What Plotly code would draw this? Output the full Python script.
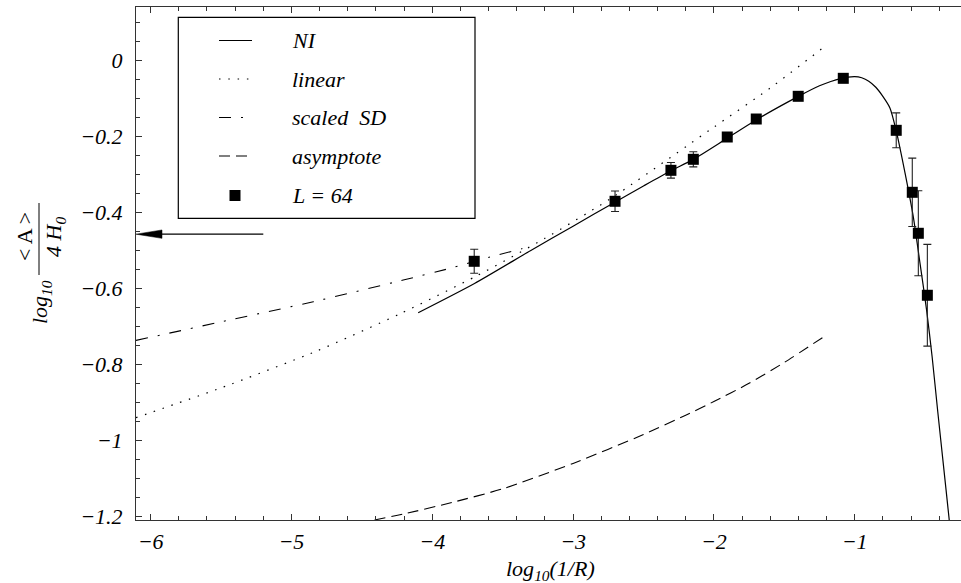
import plotly.graph_objects as go

# ---------------- data ----------------
ni_x = [-4.10, -3.70, -3.30, -3.00, -2.70, -2.50, -2.305, -2.146, -1.905, -1.70, -1.40,
        -1.25, -1.10, -1.00, -0.95, -0.90, -0.85, -0.80, -0.749, -0.705, -0.643, -0.584,
        -0.536, -0.49, -0.45, -0.41, -0.37, -0.33, -0.318]
ni_y = [-0.664, -0.587, -0.500, -0.436, -0.372, -0.330, -0.290, -0.260, -0.204, -0.156, -0.094,
        -0.066, -0.047, -0.042, -0.045, -0.054, -0.070, -0.094, -0.125, -0.185, -0.295, -0.411,
        -0.534, -0.655, -0.780, -0.925, -1.065, -1.205, -1.250]

lin_x = [-6.104, -5.50, -4.821, -4.23, -3.685, -3.20, -2.74, -2.00, -1.60, -1.199]
lin_y = [-0.9405, -0.862, -0.765, -0.667, -0.567, -0.468, -0.365, -0.175, -0.072, 0.0414]

sd_x = [-6.104, -5.50, -4.845, -4.206, -3.874, -3.638, -3.36]
sd_y = [-0.737, -0.688, -0.635, -0.578, -0.547, -0.522, -0.495]

asy_x = [-4.41, -4.20, -3.85, -3.50, -3.00, -2.50, -2.20, -2.00, -1.75, -1.50, -1.20]
asy_y = [-1.210, -1.194, -1.163, -1.128, -1.061, -0.985, -0.934, -0.898, -0.850, -0.795, -0.7226]

pts_x = [-3.702, -2.702, -2.305, -2.146, -1.905, -1.699, -1.401, -1.081, -0.705, -0.591, -0.548, -0.484]
pts_y = [-0.5285, -0.3704, -0.2888, -0.2598, -0.2010, -0.1536, -0.0938, -0.0464, -0.1834, -0.3467, -0.4547, -0.6180]
pts_err = [0.0316, 0.027, 0.0205, 0.020, 0.005, 0.008, 0.004, 0.004, 0.046, 0.090, 0.112, 0.134]

xtick_vals = [-6, -5, -4, -3, -2, -1]
xtick_text = ["\u22126", "\u22125", "\u22124", "\u22123", "\u22122", "\u22121"]
ytick_vals = [0, -0.2, -0.4, -0.6, -0.8, -1.0, -1.2]
ytick_text = ["0", "\u22120.2", "\u22120.4", "\u22120.6", "\u22120.8", "\u22121", "\u22121.2"]

legend_labels = ["NI", "linear", "scaled\u00a0\u00a0SD", "asymptote", "L = 64"]

arrow_level = -0.457
arrow_start = -5.2

x_range = [-6.104, -0.245]
y_range = [-1.2101, 0.1415]

# ---------------- layout helpers ----------------
W, H = 961, 583
ML, MR, MT, MB = 136, 0, 7, 63
PW, PH = W - ML - MR, H - MT - MB
FONT = "Liberation Serif"
FS = 22
INK = "black"


def px(x):
    return (x - ML) / PW


def py(y):
    return (H - MB - y) / PH


# dash styles
DOT = "1.5px,7.8px"
DASHDOT = "12px,10px,2px,10px"
DASH = "11px,6px"

fig = go.Figure()

fig.add_trace(go.Scatter(x=lin_x, y=lin_y, mode="lines", line=dict(color=INK, width=1.2, dash=DOT, shape="spline", smoothing=0.6), showlegend=False))
fig.add_trace(go.Scatter(x=sd_x, y=sd_y, mode="lines", line=dict(color=INK, width=1.1, dash=DASHDOT, shape="spline", smoothing=0.6), showlegend=False))
fig.add_trace(go.Scatter(x=asy_x, y=asy_y, mode="lines", line=dict(color=INK, width=1.1, dash=DASH, shape="spline", smoothing=0.6), showlegend=False))
fig.add_trace(go.Scatter(x=ni_x, y=ni_y, mode="lines", line=dict(color=INK, width=1.2, shape="spline", smoothing=0.7), showlegend=False))
fig.add_trace(go.Scatter(
    x=pts_x, y=pts_y, mode="markers",
    marker=dict(symbol="square", size=11, color=INK, line=dict(width=0)),
    error_y=dict(type="data", array=pts_err, visible=True, color="#222", thickness=1.1, width=4),
    showlegend=False))

shapes = []
annotations = []

# arrow to the axis
head_len = 26 / (PW / (x_range[1] - x_range[0]))
head_half = 4.2 / (PH / (y_range[1] - y_range[0]))
tip = x_range[0]
shapes.append(dict(type="line", xref="x", yref="y", x0=arrow_start, x1=tip + head_len * 0.5,
                   y0=arrow_level, y1=arrow_level, line=dict(color=INK, width=1.3)))
shapes.append(dict(type="path", xref="x", yref="y",
                   path=f"M {tip},{arrow_level} L {tip + head_len},{arrow_level + head_half} "
                        f"L {tip + head_len},{arrow_level - head_half} Z",
                   fillcolor=INK, line=dict(color=INK, width=0.5)))

# legend box
shapes.append(dict(type="rect", xref="paper", yref="paper", x0=px(178.3), x1=px(475), y0=py(218.3), y1=py(17.3),
                   line=dict(color=INK, width=1.2), fillcolor="rgba(255,255,255,0)"))
rows = [40.5, 79, 117.5, 156, 195.5]
styles = [None, DOT, DASHDOT, DASH]
for i, lab in enumerate(legend_labels):
    yy = rows[i]
    if i < 4:
        line = dict(color=INK, width=1.2)
        if styles[i]:
            line["dash"] = styles[i]
        shapes.append(dict(type="line", xref="paper", yref="paper", x0=px(219), x1=px(252), y0=py(yy), y1=py(yy), line=line))
    else:
        shapes.append(dict(type="rect", xref="paper", yref="paper", x0=px(229.5), x1=px(240.5),
                           y0=py(yy + 5.5), y1=py(yy - 5.5), fillcolor=INK, line=dict(width=0)))
    annotations.append(dict(xref="paper", yref="paper", x=px(290), y=py(yy), text=lab, showarrow=False,
                            xanchor="left", yanchor="middle",
                            font=dict(family=FONT, size=FS, color=INK, style="italic")))

# y-axis title built from pieces (log10 + fraction)
annotations.append(dict(xref="paper", yref="paper", x=px(41), y=py(302), text="log<sub>10</sub>", textangle=-90,
                        showarrow=False, xanchor="center", yanchor="middle",
                        font=dict(family=FONT, size=FS, color=INK, style="italic")))
annotations.append(dict(xref="paper", yref="paper", x=px(24), y=py(236), text="&lt; A &gt;", textangle=-90,
                        showarrow=False, xanchor="center", yanchor="middle",
                        font=dict(family=FONT, size=FS, color=INK)))
annotations.append(dict(xref="paper", yref="paper", x=px(55), y=py(237), text="4 H<sub>0</sub>", textangle=-90,
                        showarrow=False, xanchor="center", yanchor="middle",
                        font=dict(family=FONT, size=FS, color=INK, style="italic")))
shapes.append(dict(type="line", xref="paper", yref="paper", x0=px(39), x1=px(39), y0=py(203), y1=py(275),
                   line=dict(color=INK, width=1)))

# x-axis title
annotations.append(dict(xref="paper", yref="paper", x=px(550), y=py(570), text="log<sub>10</sub>(1/R)",
                        showarrow=False, xanchor="center", yanchor="middle",
                        font=dict(family=FONT, size=FS, color=INK, style="italic")))

axis_common = dict(showgrid=False, zeroline=False, showline=True, linecolor="#333", linewidth=1.2,
                   ticks="inside", ticklen=6, tickwidth=1, tickcolor="#333",
                   tickfont=dict(family=FONT, size=FS, color=INK, style="italic"))

fig.update_layout(
    width=W, height=H,
    margin=dict(l=ML, r=MR, t=MT, b=MB, pad=0),
    paper_bgcolor="white", plot_bgcolor="white",
    showlegend=False,
    font=dict(family=FONT),
    xaxis=dict(range=x_range, tickmode="array", tickvals=xtick_vals, ticktext=xtick_text, mirror="ticks",
               ticklabelstandoff=1,
               minor=dict(ticks="inside", ticklen=3.5, tick0=0, dtick=0.2, tickcolor="#333", tickwidth=1),
               **axis_common),
    yaxis=dict(range=y_range, tickmode="array", tickvals=ytick_vals, ticktext=ytick_text, mirror=False,
               ticklabelstandoff=8,
               minor=dict(ticks="inside", ticklen=3.5, tick0=0, dtick=0.05, tickcolor="#333", tickwidth=1),
               **axis_common),
    shapes=shapes,
    annotations=annotations,
)

fig.write_html("out.html")
